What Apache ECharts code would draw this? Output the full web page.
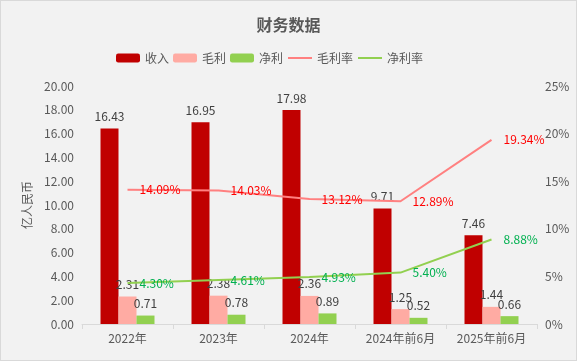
<!DOCTYPE html>
<html><head><meta charset="utf-8">
<script src="https://cdn.jsdelivr.net/npm/echarts@6/dist/echarts.min.js"></script>
<style>html,body{margin:0;padding:0;background:#f2f2f2}#c{width:577px;height:361px;box-sizing:border-box;border:1px solid #d9d9d9}</style>
</head><body><div id="c"></div>
<script>
const categories = ['2022年','2023年','2024年','2024年前6月','2025年前6月'];
const revenue = [16.43,16.95,17.98,9.71,7.46];
const grossProfit = [2.31,2.38,2.36,1.25,1.44];
const netProfit = [0.71,0.78,0.89,0.52,0.66];
const grossMargin = [14.09,14.03,13.12,12.89,19.34];
const netMargin = [4.30,4.61,4.93,5.40,8.88];

const font = 'Noto Sans CJK SC, sans-serif';
const chart = echarts.init(document.getElementById('c'));
const barLabel = {show:true,position:'top',distance:6,color:'#404040',fontSize:12,fontFamily:font,formatter:p=>p.value.toFixed(2)};
chart.setOption({
  backgroundColor:'#f2f2f2',
  title:{text:'财务数据',left:'center',top:11,textStyle:{fontSize:16,fontWeight:'bold',color:'#595959',fontFamily:font}},
  legend:{top:46,left:110,itemWidth:24,itemHeight:9,itemGap:4,textStyle:{color:'#595959',fontSize:12,fontFamily:font},
    data:['收入','毛利','净利',{name:'毛利率',itemStyle:{opacity:0}},{name:'净利率',itemStyle:{opacity:0}}]},
  grid:{left:81,right:39,top:85,bottom:36},
  xAxis:{type:'category',data:categories,axisLine:{lineStyle:{color:'#d9d9d9'}},axisTick:{show:true,length:5,lineStyle:{color:'#d9d9d9'}},
    axisLabel:{color:'#595959',fontSize:12,fontFamily:font}},
  yAxis:[
    {type:'value',min:0,max:20,interval:2,name:'亿人民币',nameLocation:'middle',nameGap:48,nameRotate:90,
     nameTextStyle:{color:'#595959',fontSize:12,fontFamily:font},
     axisLabel:{color:'#595959',fontSize:12,fontFamily:font,formatter:v=>v.toFixed(2)},splitLine:{show:false},axisLine:{show:false},axisTick:{show:false}},
    {type:'value',min:0,max:25,interval:5,axisLabel:{color:'#595959',fontSize:12,fontFamily:font,formatter:'{value}%'},splitLine:{show:false},axisLine:{show:false},axisTick:{show:false}}
  ],
  series:[
    {name:'收入',type:'bar',data:revenue,barWidth:18,barGap:'0%',itemStyle:{color:'#c00000'},label:barLabel},
    {name:'毛利',type:'bar',data:grossProfit,barWidth:18,barGap:'0%',itemStyle:{color:'#ffaba3'},label:barLabel},
    {name:'净利',type:'bar',data:netProfit,barWidth:18,barGap:'0%',itemStyle:{color:'#92d050'},label:barLabel},
    {name:'毛利率',type:'line',yAxisIndex:1,data:grossMargin,symbol:'circle',symbolSize:0,showAllSymbol:true,lineStyle:{color:'#ff8080',width:2},itemStyle:{color:'#ff8080'},
     label:{show:true,position:'right',distance:12,color:'#ff0000',fontSize:12,fontFamily:font,formatter:p=>p.value.toFixed(2)+'%'}},
    {name:'净利率',type:'line',yAxisIndex:1,data:netMargin,symbol:'circle',symbolSize:0,showAllSymbol:true,lineStyle:{color:'#92d050',width:2},itemStyle:{color:'#92d050'},
     label:{show:true,position:'right',distance:12,color:'#00b050',fontSize:12,fontFamily:font,formatter:p=>p.value.toFixed(2)+'%'}}
  ]
});
</script></body></html>
